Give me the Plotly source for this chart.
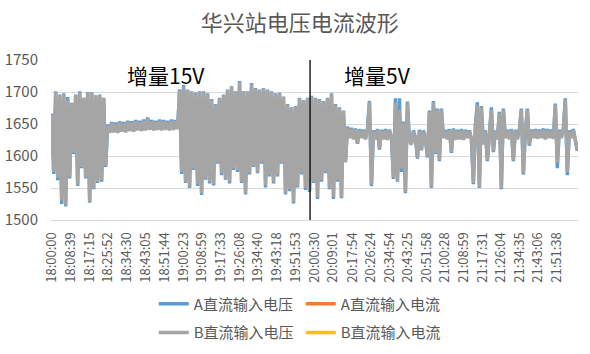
import pandas as pd
import plotly.graph_objects as go

# ---------------- data ----------------
start_time = "2024-01-01 18:00:00"
sample_step = "55s"

b_voltage = [
    # 18:00 - 18:25 oscillating
    1664, 1575, 1700, 1566, 1695, 1530, 1697, 1523, 1688, 1567, 1682, 1605, 1695, 1555,
    1700, 1583, 1690, 1567, 1699, 1528, 1699, 1550, 1694, 1560, 1695, 1562, 1690, 1585,
    # 18:25 - 19:00 steady
    1647, 1636, 1651, 1637, 1650, 1636, 1652, 1638, 1651, 1637, 1653, 1639, 1652, 1638,
    1654, 1640, 1653, 1639, 1655, 1640, 1658, 1641, 1654, 1640, 1653, 1641, 1655, 1640,
    1654, 1641, 1653, 1640, 1655, 1641, 1654, 1642,
    # 19:00 - 20:15 oscillating
    1702, 1575, 1708, 1560, 1703, 1552, 1700, 1580, 1698, 1556,
    1700, 1542, 1700, 1565, 1697, 1560, 1688, 1556, 1680, 1590,
    1690, 1573, 1695, 1565, 1703, 1560, 1708, 1580, 1700, 1578,
    1715, 1560, 1700, 1542, 1700, 1573, 1712, 1585, 1705, 1575,
    1703, 1590, 1705, 1554, 1703, 1570, 1700, 1560, 1697, 1570,
    1698, 1590, 1692, 1542, 1680, 1548, 1675, 1528, 1677, 1553,
    1690, 1573, 1686, 1550, 1690, 1547, 1693, 1560, 1690, 1536,
    1688, 1562, 1685, 1575, 1690, 1550, 1697, 1536, 1680, 1562,
    1675, 1536, 1670, 1590,
    # 20:15 - 22:00 steady with spikes
    1644, 1628, 1642, 1626, 1641, 1620, 1640, 1628, 1639, 1626,
    1641, 1684, 1555, 1638, 1626, 1640, 1612, 1639, 1626, 1640,
    1625, 1639, 1628, 1566, 1683, 1562, 1672, 1580, 1652, 1544,
    1683, 1623, 1618, 1638, 1628, 1598, 1639, 1610, 1638, 1626,
    1600, 1669, 1552, 1684, 1605, 1672, 1594, 1672, 1628, 1639,
    1626, 1640, 1607, 1641, 1625, 1639, 1626, 1640, 1625, 1639,
    1628, 1638, 1626, 1558, 1646, 1680, 1552, 1676, 1618, 1638,
    1594, 1641, 1672, 1608, 1638, 1626, 1667, 1550, 1672, 1628,
    1639, 1626, 1640, 1594, 1639, 1626, 1640, 1672, 1573, 1636,
    1672, 1618, 1639, 1628, 1640, 1627, 1639, 1628, 1641, 1626,
    1640, 1628, 1639, 1627, 1680, 1590, 1639, 1628, 1640, 1688,
    1575, 1638, 1628, 1640, 1626, 1610,
]

a_voltage = [
    1666, 1572, 1701, 1562, 1696, 1525, 1698, 1521, 1692, 1565, 1683, 1603, 1696, 1553,
    1701, 1581, 1691, 1565, 1700, 1527, 1700, 1548, 1695, 1558, 1696, 1560, 1691, 1583,
    1649, 1637, 1653, 1638, 1652, 1637, 1654, 1639, 1653, 1638, 1655, 1640, 1654, 1639,
    1656, 1641, 1655, 1640, 1657, 1641, 1660, 1642, 1656, 1641, 1655, 1642, 1657, 1641,
    1656, 1642, 1655, 1641, 1657, 1642, 1656, 1643,
    1704, 1572, 1711, 1558, 1704, 1550, 1701, 1578, 1699, 1553,
    1701, 1539, 1701, 1563, 1698, 1557, 1689, 1554, 1681, 1588,
    1691, 1570, 1696, 1563, 1704, 1557, 1709, 1578, 1701, 1575,
    1717, 1558, 1701, 1540, 1701, 1571, 1714, 1583, 1706, 1573,
    1704, 1588, 1706, 1551, 1704, 1568, 1701, 1557, 1698, 1568,
    1699, 1588, 1693, 1540, 1681, 1545, 1676, 1526, 1678, 1551,
    1691, 1571, 1687, 1547, 1691, 1544, 1694, 1558, 1691, 1533,
    1689, 1560, 1686, 1573, 1691, 1548, 1698, 1533, 1681, 1560,
    1676, 1534, 1671, 1592,
    1646, 1629, 1644, 1627, 1643, 1619, 1642, 1629, 1641, 1627,
    1643, 1686, 1553, 1640, 1627, 1642, 1610, 1641, 1627, 1642,
    1626, 1641, 1629, 1564, 1690, 1560, 1690, 1575, 1654, 1542,
    1685, 1624, 1619, 1640, 1629, 1596, 1641, 1609, 1640, 1627,
    1598, 1671, 1550, 1686, 1603, 1674, 1592, 1674, 1629, 1641,
    1627, 1642, 1605, 1643, 1626, 1641, 1627, 1642, 1626, 1641,
    1629, 1640, 1627, 1556, 1648, 1684, 1550, 1678, 1619, 1640,
    1592, 1643, 1676, 1606, 1640, 1627, 1669, 1548, 1674, 1629,
    1641, 1627, 1642, 1592, 1641, 1627, 1642, 1674, 1571, 1638,
    1674, 1616, 1641, 1629, 1642, 1628, 1641, 1629, 1643, 1627,
    1642, 1629, 1641, 1628, 1682, 1581, 1641, 1629, 1642, 1690,
    1570, 1640, 1629, 1642, 1627, 1608,
]

# currents are far below the voltage scale (not visible in the plot area)
current_times = ["2024-01-01 18:00:00", "2024-01-01 19:00:00", "2024-01-01 20:00:00",
                 "2024-01-01 21:00:00", "2024-01-01 22:00:00"]
a_current = [12.4, 12.6, 12.3, 12.5, 12.4]
b_current = [12.2, 12.5, 12.1, 12.3, 12.2]

tick_labels = [
    "18:00:00", "18:08:39", "18:17:15", "18:25:52", "18:34:30", "18:43:05", "18:51:44",
    "19:00:23", "19:08:59", "19:17:33", "19:26:08", "19:34:40", "19:43:18", "19:51:53",
    "20:00:30", "20:09:01", "20:17:54", "20:26:24", "20:34:54", "20:43:25", "20:51:58",
    "21:00:28", "21:08:59", "21:17:31", "21:26:04", "21:34:35", "21:43:06", "21:51:38",
]
step_change_time = "2024-01-01 19:58:30"
x_range = ["2024-01-01 17:59:41", "2024-01-01 22:01:24"]

assert len(a_voltage) == len(b_voltage) == 264, (len(a_voltage), len(b_voltage))
times = pd.date_range(start_time, periods=len(b_voltage), freq=sample_step)
tick_vals = ["2024-01-01 " + t for t in tick_labels]

# ---------------- figure ----------------
FONT = "Noto Sans CJK SC"
GRAY_TEXT = "#595959"
LW = 3.4

fig = go.Figure()
fig.add_trace(go.Scatter(x=times, y=a_voltage, mode="lines", name="A直流输入电压",
                         line=dict(color="#5B9BD5", width=LW), legend="legend"))
fig.add_trace(go.Scatter(x=current_times, y=a_current, mode="lines", name="A直流输入电流",
                         line=dict(color="#ED7D31", width=LW), legend="legend"))
fig.add_trace(go.Scatter(x=times, y=b_voltage, mode="lines", name="B直流输入电压",
                         line=dict(color="#A5A5A5", width=LW), legend="legend2"))
fig.add_trace(go.Scatter(x=current_times, y=b_current, mode="lines", name="B直流输入电流",
                         line=dict(color="#FFC000", width=LW), legend="legend2"))

fig.add_shape(type="line", x0=step_change_time, x1=step_change_time, y0=0, y1=1,
              xref="x", yref="paper", line=dict(color="black", width=1.3))

fig.add_annotation(text="增量15V", x=0.218, y=0.906, xref="paper", yref="paper",
                   xanchor="center", yanchor="middle", showarrow=False,
                   font=dict(family=FONT, size=21, color="black"))
fig.add_annotation(text="增量5V", x=0.62, y=0.906, xref="paper", yref="paper",
                   xanchor="center", yanchor="middle", showarrow=False,
                   font=dict(family=FONT, size=21, color="black"))

legend_common = dict(orientation="h", xanchor="left", yanchor="middle",
                     font=dict(family=FONT, size=15, color=GRAY_TEXT),
                     bgcolor="rgba(0,0,0,0)", entrywidth=102, itemwidth=30)

fig.update_layout(
    width=590, height=354,
    margin=dict(l=51, r=12, t=60, b=134, autoexpand=False),
    paper_bgcolor="white", plot_bgcolor="white",
    font=dict(family=FONT, color=GRAY_TEXT),
    title=dict(text="华兴站电压电流波形", x=0.508, xanchor="center",
               y=1 - 23 / 354, yanchor="middle", yref="container",
               font=dict(family=FONT, size=22, color=GRAY_TEXT)),
    showlegend=True,
    legend=dict(x=0.195, y=-0.525, **legend_common),
    legend2=dict(x=0.195, y=-0.705, **legend_common),
    xaxis=dict(type="date", range=x_range, tickvals=tick_vals, ticktext=tick_labels,
               tickangle=-90, tickfont=dict(family=FONT, size=13, color=GRAY_TEXT),
               showgrid=False, showline=True, linecolor="#D9D9D9", ticks="",
               ticklabelstandoff=6, zeroline=False, automargin=False),
    yaxis=dict(range=[1500, 1750], dtick=50, tick0=1500,
               tickfont=dict(family=FONT, size=15, color=GRAY_TEXT),
               gridcolor="#D9D9D9", gridwidth=1, showline=False, zeroline=False,
               ticks="", ticklabelstandoff=12, automargin=False),
)

fig.write_html("out.html")
